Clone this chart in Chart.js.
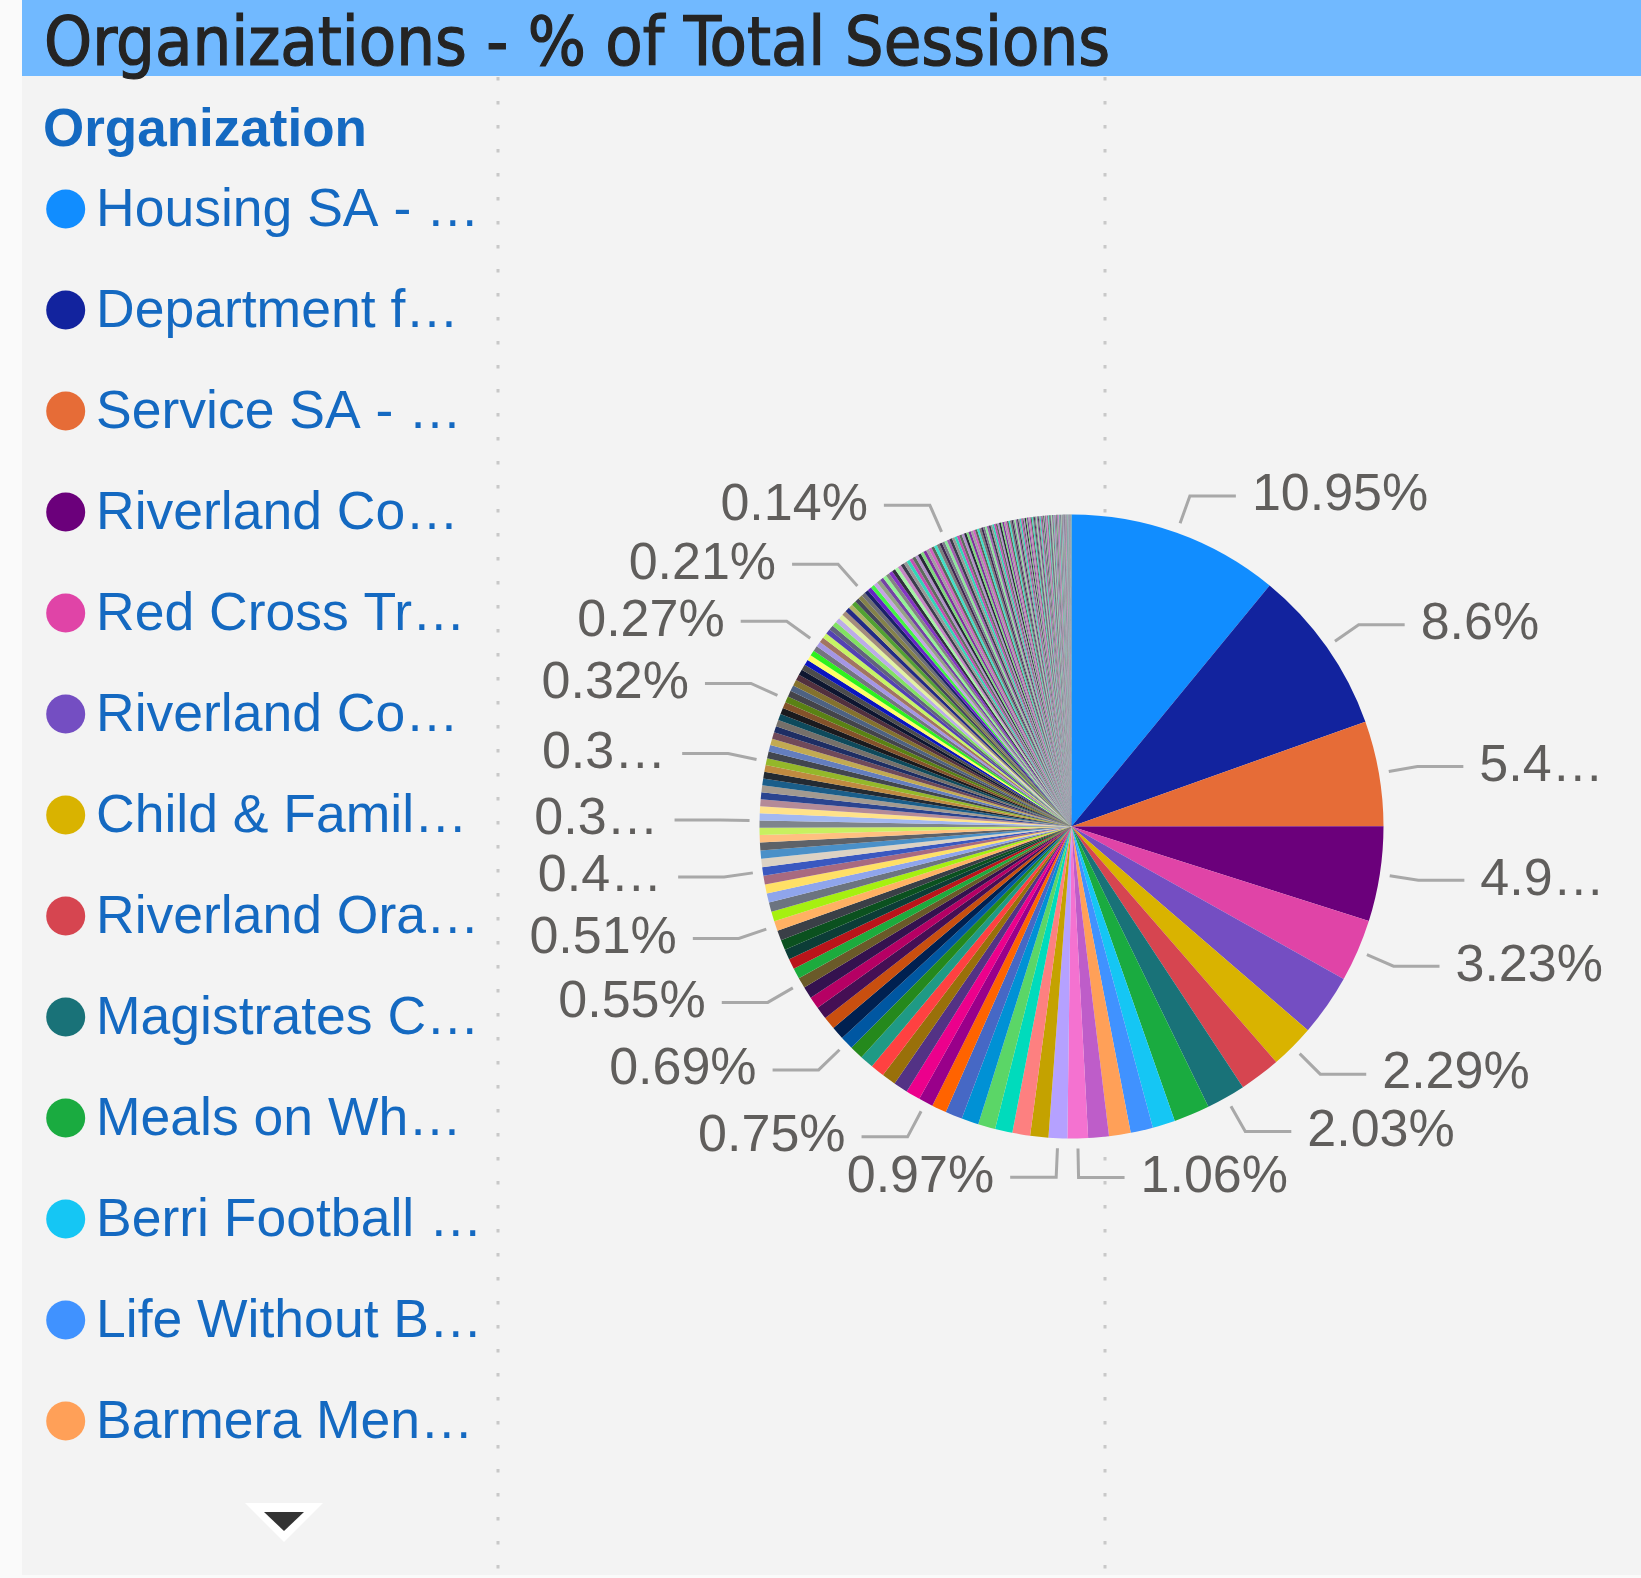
<!DOCTYPE html>
<html>
<head>
<meta charset="utf-8">
<title>Organizations - % of Total Sessions</title>
<script src="https://cdn.jsdelivr.net/npm/chart.js@4.4.1/dist/chart.umd.min.js"></script>
<style>
  html, body { margin: 0; padding: 0; background: #fafafa; }
  canvas { display: block; }
</style>
</head>
<body>
<canvas id="orgChart" width="1641" height="1578"></canvas>
<script>
// Legend names as the report shows them (already cut off there)
const orgNames = [
  'Housing SA - …', 'Department f…', 'Service SA - …', 'Riverland Co…',
  'Red Cross Tr…', 'Riverland Co…', 'Child & Famil…', 'Riverland Ora…',
  'Magistrates C…', 'Meals on Wh…', 'Berri Football …', 'Life Without B…',
  'Barmera Men…'
];

// % of total sessions, biggest organizations first
const headShare = [
  10.95, 8.60, 5.44, 4.91, 3.23, 3.19, 2.29, 2.13, 2.03, 1.86,
  1.17, 1.16, 1.12, 1.07, 1.06, 0.97, 0.94, 0.92, 0.90, 0.89,
  0.89, 0.88, 0.76, 0.75, 0.75, 0.74, 0.73, 0.72, 0.71, 0.70,
  0.69, 0.67, 0.66, 0.65, 0.63, 0.61, 0.55, 0.55, 0.54, 0.53,
  0.52, 0.52, 0.51, 0.50, 0.49, 0.48, 0.47, 0.45, 0.44, 0.43,
  0.42, 0.41, 0.38, 0.37
];

// the long tail of small organizations
const tailShare = [
  0.37, 0.37, 0.36, 0.36, 0.36, 0.36, 0.35, 0.35, 0.35, 0.35,
  0.35, 0.34, 0.34, 0.34, 0.33, 0.33, 0.33, 0.33, 0.32, 0.32,
  0.32, 0.31, 0.31, 0.30, 0.30, 0.29, 0.29, 0.28, 0.28, 0.28,
  0.27, 0.27, 0.27, 0.26, 0.26, 0.25, 0.25, 0.25, 0.24, 0.24,
  0.23, 0.23, 0.22, 0.22, 0.21, 0.21, 0.21, 0.20, 0.20, 0.20,
  0.19, 0.19, 0.19, 0.19, 0.18, 0.18, 0.18, 0.18, 0.17, 0.17,
  0.17, 0.17, 0.16, 0.16, 0.16, 0.16, 0.15, 0.15, 0.15, 0.15,
  0.15, 0.14, 0.14, 0.14, 0.14, 0.14, 0.14, 0.13, 0.13, 0.13,
  0.13, 0.12, 0.12, 0.12, 0.12, 0.11, 0.11, 0.11, 0.11, 0.10,
  0.10, 0.10, 0.10, 0.10, 0.09, 0.09, 0.09, 0.09, 0.09, 0.09,
  0.08, 0.08, 0.08, 0.08, 0.08, 0.08, 0.08, 0.07, 0.07, 0.07,
  0.07, 0.07, 0.07, 0.07, 0.07, 0.06, 0.06, 0.06, 0.06, 0.06,
  0.06, 0.06, 0.06, 0.06, 0.05, 0.05, 0.05, 0.05, 0.05, 0.05,
  0.05, 0.05, 0.05, 0.05, 0.04, 0.04, 0.04, 0.04, 0.04, 0.04,
  0.04, 0.04, 0.04, 0.04, 0.04, 0.04, 0.03, 0.03, 0.03, 0.03,
  0.03, 0.03, 0.03, 0.03, 0.03, 0.03, 0.03, 0.03, 0.03, 0.03,
  0.02, 0.02, 0.02, 0.02, 0.02, 0.02, 0.02, 0.02, 0.02, 0.02,
  0.02, 0.02, 0.02, 0.02, 0.02, 0.02, 0.02, 0.02, 0.01, 0.01,
  0.01, 0.01, 0.01, 0.01, 0.01, 0.01, 0.01, 0.01, 0.01, 0.01,
  0.01, 0.01, 0.01, 0.01, 0.01, 0.01, 0.01, 0.01, 0.01, 0.01
];

// slices that get a data label in the report
const labeledSlices = [0, 1, 2, 3, 4, 6, 8, 14, 15, 23, 30, 36, 42, 48, 52, 63, 73, 84, 98, 127];

const headColors = [
  '#118DFF', '#12239E', '#E66C37', '#6B007B', '#E044A7', '#744EC2', '#D9B300', '#D64550',
  '#197278', '#1AAB40', '#15C6F4', '#4092FF', '#FFA058', '#BE5DC9', '#F472D0', '#B5A1FF',
  '#C4A200', '#FD8080', '#00DBBC', '#5BD667', '#0091D5', '#4668C5', '#FF6300', '#99008A',
  '#EC008C', '#533285', '#99700A', '#FF4141', '#1F9A85', '#25891C', '#0057A2', '#002050',
  '#C94F0F', '#450F54', '#B60064', '#34124F', '#6A5A29', '#1CAB3D', '#BA141A', '#0C3D37',
  '#0B511F', '#3A3F47', '#FFB163', '#A6F010', '#6C7480', '#8FA5EC', '#FFE066', '#A86A80',
  '#3A58C0', '#DCD2C4', '#4A90C8', '#5E6268', '#FFC080', '#C8F060'
];
const tailColors = [
  '#7E848C', '#A3B8F0', '#FFE28A', '#B48A98', '#2A4490', '#A39A90', '#1A5E8A', '#232A32',
  '#C08A40', '#94B82A', '#42464E', '#647EBE', '#C2AA52', '#704A5A', '#1E2E64', '#76706A',
  '#0E4A5C', '#1A1A1E', '#84522A', '#5A8214', '#44444A', '#4E6282', '#84722E', '#52303E',
  '#0E1630', '#4C4C4C', '#0A14C0', '#FFFF66', '#2EF21E', '#74747E', '#A496E4', '#A27462',
  '#C6F464', '#5442B2', '#62627E', '#82E262', '#BCACE8', '#E2F2A2', '#A48C7C', '#222A84',
  '#B2B464', '#52A232', '#44445A', '#84824A', '#6E6E74', '#1C2268', '#6424C4', '#44F444',
  '#C4A4E4', '#94A484', '#7444A4', '#94F494', '#848484', '#8434C4', '#30303E', '#A4F4A4',
  '#C484C4'
];
// the thinnest slices just cycle through these
const restColors = [
  '#7C7C8C', '#8CE89C', '#A060B0', '#3C3C4C', '#989898', '#30D8B8', '#C050B0', '#5C6C5C',
  '#B090C8', '#282838', '#80D880', '#8030A0', '#A0A0A0', '#D060C0', '#586858', '#40E0C8',
  '#7C7C7C', '#402850'
];

const shares = headShare.concat(tailShare);
const fixedColors = headColors.concat(tailColors);
const sliceColors = shares.map((v, i) => fixedColors[i] || restColors[i % restColors.length]);

const labelFont = "52px 'Liberation Sans', Arial, sans-serif";
const legendFont = "53.5px 'Liberation Sans', Arial, sans-serif";
const legendBlue = '#1469C1';

function fmtShare(v) {
  return parseFloat(v.toFixed(2)) + '%';
}

// cut text down with an ellipsis until it fits, like the report does
function fitText(ctx, text, maxW) {
  if (ctx.measureText(text).width <= maxW) return text;
  for (let n = text.length - 1; n > 0; n--) {
    const t = text.slice(0, n) + '…';
    if (ctx.measureText(t).width <= maxW) return t;
  }
  return '…';
}

// background, title bar and the dotted guides
const panelPlugin = {
  id: 'panel',
  beforeDraw(chart) {
    const ctx = chart.ctx;
    const w = chart.width, h = chart.height;
    ctx.save();
    ctx.fillStyle = '#fafafa';
    ctx.fillRect(0, 0, w, h);
    ctx.fillStyle = '#f3f3f3';
    ctx.fillRect(22, 0, w - 22, h - 3);
    ctx.fillStyle = '#71b9ff';
    ctx.fillRect(22, 0, w - 22, 76);

    ctx.fillStyle = '#c8c8c8';
    [498, 1105].forEach(gx => {
      for (let y = 77; y < h - 4; y += 24) {
        ctx.fillRect(gx - 1.5, y, 3, 3.5);
      }
    });

    // title, a touch heavier than the regular cut
    ctx.fillStyle = '#252423';
    ctx.strokeStyle = '#252423';
    ctx.lineWidth = 1.2;
    ctx.font = "68px 'DejaVu Sans Condensed', 'DejaVu Sans', sans-serif";
    ctx.textBaseline = 'alphabetic';
    ctx.fillText('Organizations - % of Total Sessions', 44, 65);
    ctx.strokeText('Organizations - % of Total Sessions', 44, 65);
    ctx.restore();
  }
};

// legend on the left (only the first items fit, then the scroll arrow)
const legendPlugin = {
  id: 'orgLegend',
  afterDraw(chart) {
    const ctx = chart.ctx;
    const colors = chart.data.datasets[0].backgroundColor;
    ctx.save();
    ctx.textBaseline = 'alphabetic';
    ctx.textAlign = 'left';
    ctx.fillStyle = legendBlue;
    ctx.font = "bold 53px 'Liberation Sans', Arial, sans-serif";
    ctx.fillText('Organization', 43, 146);

    ctx.font = legendFont;
    orgNames.forEach((name, i) => {
      const base = 225.5 + i * 101;
      ctx.fillStyle = colors[i];
      ctx.beginPath();
      ctx.arc(65.7, base - 16.5, 19.5, 0, Math.PI * 2);
      ctx.fill();
      ctx.fillStyle = legendBlue;
      ctx.fillText(name, 96, base);
    });

    ctx.fillStyle = '#ffffff';
    ctx.beginPath();
    ctx.moveTo(245, 1503); ctx.lineTo(323, 1503); ctx.lineTo(284, 1542);
    ctx.closePath();
    ctx.fill();
    ctx.fillStyle = '#333333';
    ctx.beginPath();
    ctx.moveTo(264, 1512); ctx.lineTo(304, 1512); ctx.lineTo(284, 1531);
    ctx.closePath();
    ctx.fill();
    ctx.restore();
  }
};

// outside labels with leader lines
const sliceLabelPlugin = {
  id: 'sliceLabels',
  afterDatasetsDraw(chart) {
    const ctx = chart.ctx;
    const arcs = chart.getDatasetMeta(0).data;
    const values = chart.data.datasets[0].data;
    const cx = arcs[0].x, cy = arcs[0].y, r = arcs[0].outerRadius;
    const elbowR = r + 39, anchorR = r + 10;
    const run = 46, gap = 16, minGap = 57, halfWidth = 546;

    ctx.save();
    ctx.font = labelFont;

    const place = (item) => {
      const dy = Math.max(-elbowR, Math.min(elbowR, item.y - cy));
      const dx = Math.sqrt(elbowR * elbowR - dy * dy);
      item.ex = item.right ? cx + dx : cx - dx;
      item.tx = item.right ? item.ex + run + gap : item.ex - run - gap;
      const room = item.right ? (cx + halfWidth) - item.tx : item.tx - (cx - halfWidth);
      item.label = fitText(ctx, item.full, room);
      const tw = ctx.measureText(item.label).width;
      item.x0 = item.right ? item.tx : item.tx - tw;
      item.x1 = item.right ? item.tx + tw : item.tx;
    };

    const items = labeledSlices.map(i => {
      const a = (arcs[i].startAngle + arcs[i].endAngle) / 2;
      return {
        i: i,
        right: Math.cos(a) >= 0,
        y: cy + elbowR * Math.sin(a),
        full: fmtShare(values[i])
      };
    });

    [true, false].forEach(side => {
      const list = items.filter(it => it.right === side).sort((p, q) => q.y - p.y);
      const placed = [];
      list.forEach(it => {
        place(it);
        placed.forEach(p => {
          const overlap = Math.min(it.x1, p.x1) - Math.max(it.x0, p.x0);
          if (overlap > 30 && it.y > p.y - minGap) {
            it.y = p.y - minGap;
            place(it);
          }
        });
        placed.push(it);
      });
    });

    items.forEach(it => {
      const k = anchorR / elbowR;
      const ax = cx + (it.ex - cx) * k;
      const ay = cy + (it.y - cy) * k;
      ctx.strokeStyle = '#a8a8a8';
      ctx.lineWidth = 3;
      ctx.beginPath();
      ctx.moveTo(ax, ay);
      ctx.lineTo(it.ex, it.y);
      ctx.lineTo(it.right ? it.ex + run : it.ex - run, it.y);
      ctx.stroke();

      ctx.fillStyle = '#605e5c';
      ctx.textBaseline = 'middle';
      ctx.textAlign = it.right ? 'left' : 'right';
      ctx.fillText(it.label, it.tx, it.y);
    });
    ctx.restore();
  }
};

new Chart(document.getElementById('orgChart'), {
  type: 'pie',
  data: {
    labels: shares.map((v, i) => orgNames[i] || ''),
    datasets: [{
      label: '% of Total Sessions',
      data: shares,
      backgroundColor: sliceColors,
      borderWidth: 0,
      radius: 312
    }]
  },
  options: {
    responsive: false,
    animation: false,
    events: [],
    layout: {
      padding: { left: 502, top: 75, right: 0, bottom: 0 }
    },
    plugins: {
      legend: { display: false },
      title: { display: false },
      tooltip: { enabled: false }
    }
  },
  plugins: [panelPlugin, legendPlugin, sliceLabelPlugin]
});
</script>
</body>
</html>
